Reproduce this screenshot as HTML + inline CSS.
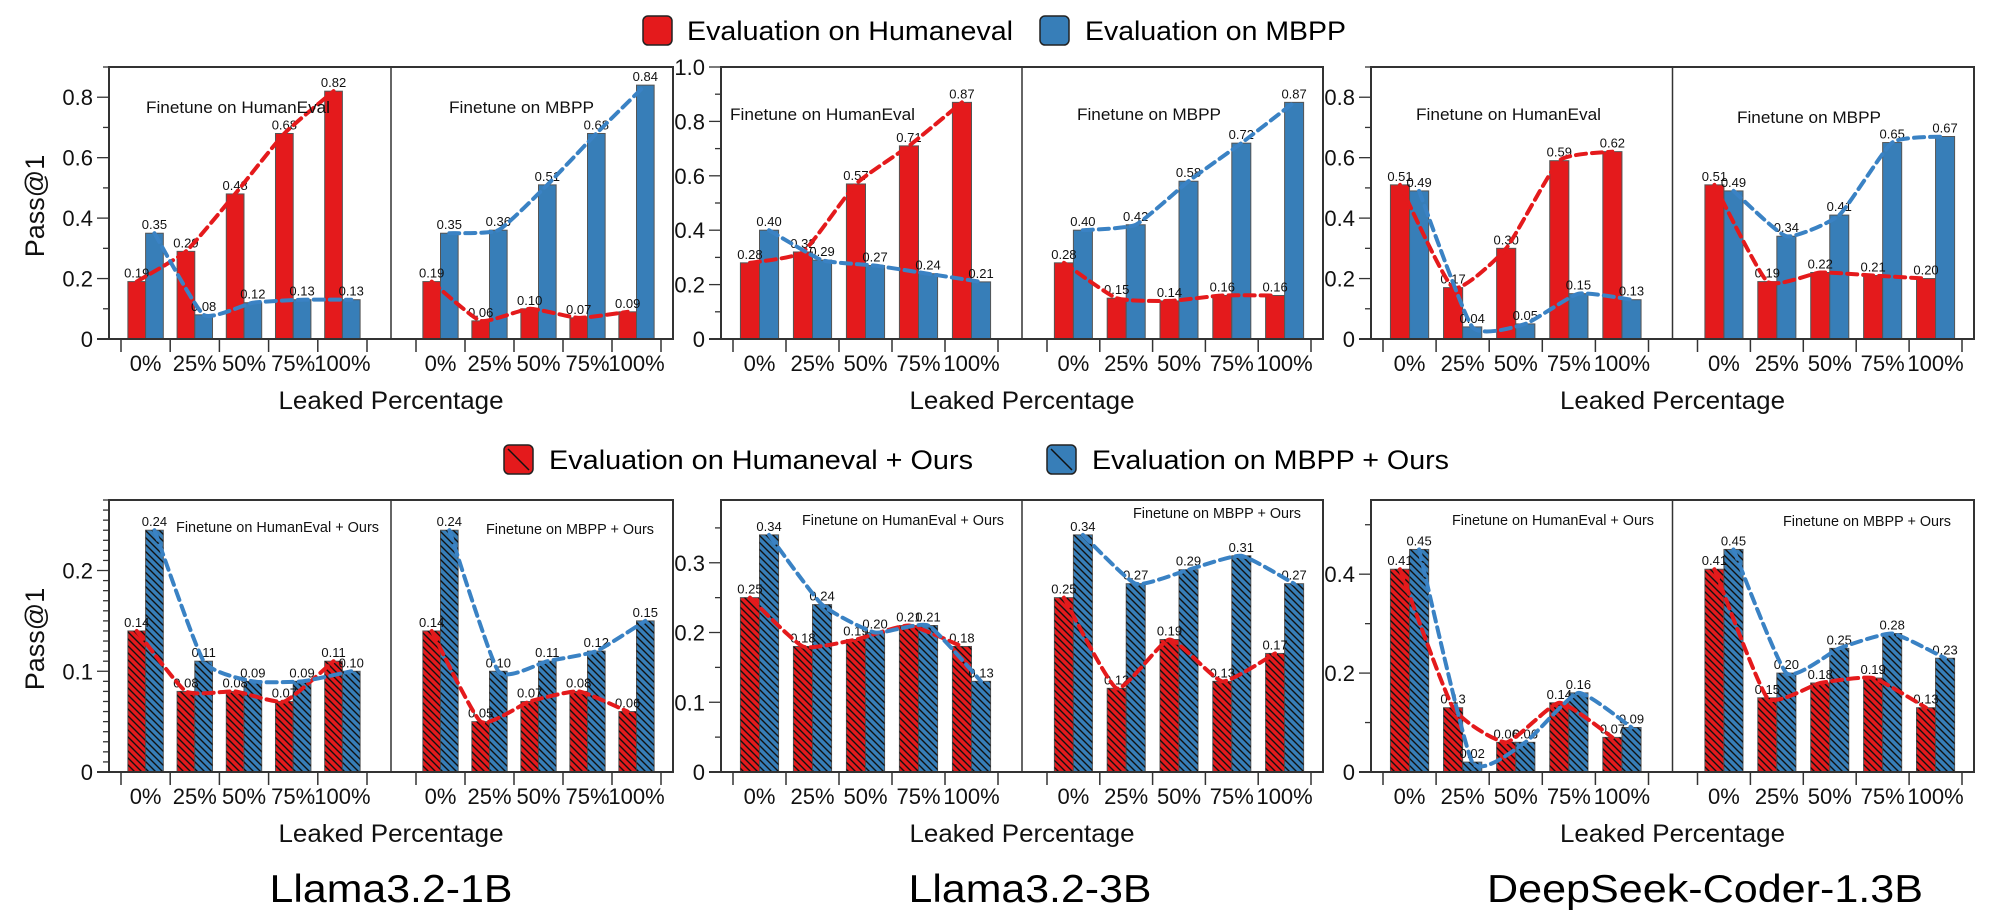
<!DOCTYPE html>
<html><head><meta charset="utf-8"><style>
html,body{margin:0;padding:0;background:#fff;}
svg{display:block;font-family:"Liberation Sans",Arial,sans-serif;}
</style></head><body>
<svg id="fig" width="2000" height="921" viewBox="0 0 2000 921" xmlns="http://www.w3.org/2000/svg">
<defs>
<pattern id="hatch" patternUnits="userSpaceOnUse" width="7" height="7">
<path d="M-2,-2 L9,9 M-2,5 L2,9 M5,-2 L9,2" stroke="#111" stroke-width="1.4"/>
</pattern>
</defs>
<g>
<rect x="643" y="16" width="29" height="29" rx="5" fill="#e41a1c" stroke="#222" stroke-width="1.5"/>
<text x="687" y="40" font-size="27" textLength="326" lengthAdjust="spacingAndGlyphs">Evaluation on Humaneval</text>
<rect x="1040" y="16" width="29" height="29" rx="5" fill="#377eb8" stroke="#222" stroke-width="1.5"/>
<text x="1085" y="40" font-size="27" textLength="261" lengthAdjust="spacingAndGlyphs">Evaluation on MBPP</text>
</g>
<g>
<rect x="504" y="445" width="29" height="29" rx="5" fill="#e41a1c" stroke="#222" stroke-width="1.5"/>
<line x1="508" y1="449" x2="529" y2="470" stroke="#111" stroke-width="1.5"/>
<text x="549" y="469" font-size="27" textLength="424" lengthAdjust="spacingAndGlyphs">Evaluation on Humaneval + Ours</text>
<rect x="1047" y="445" width="29" height="29" rx="5" fill="#377eb8" stroke="#222" stroke-width="1.5"/>
<line x1="1051" y1="449" x2="1072" y2="470" stroke="#111" stroke-width="1.5"/>
<text x="1092" y="469" font-size="27" textLength="357" lengthAdjust="spacingAndGlyphs">Evaluation on MBPP + Ours</text>
</g>
<text x="391" y="902" font-size="39" text-anchor="middle" textLength="243" lengthAdjust="spacingAndGlyphs">Llama3.2-1B</text>
<text x="1030" y="902" font-size="39" text-anchor="middle" textLength="243" lengthAdjust="spacingAndGlyphs">Llama3.2-3B</text>
<text x="1705" y="902" font-size="39" text-anchor="middle" textLength="436" lengthAdjust="spacingAndGlyphs">DeepSeek-Coder-1.3B</text>
</svg>
<script>
const categories = ["0%","25%","50%","75%","100%"];
// Top row (no Ours)
const t1HeRed = [0.19,0.29,0.48,0.68,0.82];
const t1HeBlue = [0.35,0.08,0.12,0.13,0.13];
const t1MbRed = [0.19,0.06,0.10,0.07,0.09];
const t1MbBlue = [0.35,0.36,0.51,0.68,0.84];
const t2HeRed = [0.28,0.32,0.57,0.71,0.87];
const t2HeBlue = [0.40,0.29,0.27,0.24,0.21];
const t2MbRed = [0.28,0.15,0.14,0.16,0.16];
const t2MbBlue = [0.40,0.42,0.58,0.72,0.87];
const t3HeRed = [0.51,0.17,0.30,0.59,0.62];
const t3HeBlue = [0.49,0.04,0.05,0.15,0.13];
const t3MbRed = [0.51,0.19,0.22,0.21,0.20];
const t3MbBlue = [0.49,0.34,0.41,0.65,0.67];
// Bottom row (+ Ours)
const b1HeRed = [0.14,0.08,0.08,0.07,0.11];
const b1HeBlue = [0.24,0.11,0.09,0.09,0.10];
const b1MbRed = [0.14,0.05,0.07,0.08,0.06];
const b1MbBlue = [0.24,0.10,0.11,0.12,0.15];
const b2HeRed = [0.25,0.18,0.19,0.21,0.18];
const b2HeBlue = [0.34,0.24,0.20,0.21,0.13];
const b2MbRed = [0.25,0.12,0.19,0.13,0.17];
const b2MbBlue = [0.34,0.27,0.29,0.31,0.27];
const b3HeRed = [0.41,0.13,0.06,0.14,0.07];
const b3HeBlue = [0.45,0.02,0.06,0.16,0.09];
const b3MbRed = [0.41,0.15,0.18,0.19,0.13];
const b3MbBlue = [0.45,0.20,0.25,0.28,0.23];
// Axis tick labels
const ticksTop1 = ["0","0.2","0.4","0.6","0.8"];
const ticksTop2 = ["0","0.2","0.4","0.6","0.8","1.0"];
const ticksTop3 = ["0","0.2","0.4","0.6","0.8"];
const ticksBot1 = ["0","0.1","0.2"];
const ticksBot2 = ["0","0.1","0.2","0.3"];
const ticksBot3 = ["0","0.2","0.4"];
const yMaxes = [0.9,1.0,0.9,0.27,0.39,0.55];
const majorSteps = [0.2,0.2,0.2,0.1,0.1,0.2];
const minorSteps = [0.1,0.1,0.1,0.01,0.05,0.1];

const NS = "http://www.w3.org/2000/svg";
const svg = document.getElementById("fig");
const RED = "#e41a1c", BLUE = "#377eb8";
function mk(tag, attrs, parent){
  const e = document.createElementNS(NS, tag);
  for (const k in attrs) e.setAttribute(k, attrs[k]);
  (parent||svg).appendChild(e);
  return e;
}
function smooth(pts){
  let d = "M" + pts[0][0] + "," + pts[0][1];
  for (let i=0;i<pts.length-1;i++){
    const p0 = pts[Math.max(0,i-1)], p1 = pts[i], p2 = pts[i+1], p3 = pts[Math.min(pts.length-1,i+2)];
    const t = 0.08;
    const c1x = p1[0] + (p2[0]-p0[0])*t, c1y = p1[1] + (p2[1]-p0[1])*t;
    const c2x = p2[0] - (p3[0]-p1[0])*t, c2y = p2[1] - (p3[1]-p1[1])*t;
    d += " C" + c1x + "," + c1y + " " + c2x + "," + c2y + " " + p2[0] + "," + p2[1];
  }
  return d;
}

const colsX = [[109,673],[721,1323],[1371,1974]];
const rowsY = [[67,339],[500,772]];
const panels = [
  {row:0,col:0,ticks:ticksTop1,he:[t1HeRed,t1HeBlue],mb:[t1MbRed,t1MbBlue],hatch:false,titles:["Finetune on HumanEval","Finetune on MBPP"],tpos:[[146,113,184],[449,113,145]]},
  {row:0,col:1,ticks:ticksTop2,he:[t2HeRed,t2HeBlue],mb:[t2MbRed,t2MbBlue],hatch:false,titles:["Finetune on HumanEval","Finetune on MBPP"],tpos:[[730,120,185],[1077,120,144]]},
  {row:0,col:2,ticks:ticksTop3,he:[t3HeRed,t3HeBlue],mb:[t3MbRed,t3MbBlue],hatch:false,titles:["Finetune on HumanEval","Finetune on MBPP"],tpos:[[1416,120,185],[1737,123,144]]},
  {row:1,col:0,ticks:ticksBot1,he:[b1HeRed,b1HeBlue],mb:[b1MbRed,b1MbBlue],hatch:true,titles:["Finetune on HumanEval + Ours","Finetune on MBPP + Ours"],tpos:[[176,532,203],[486,534,168]]},
  {row:1,col:1,ticks:ticksBot2,he:[b2HeRed,b2HeBlue],mb:[b2MbRed,b2MbBlue],hatch:true,titles:["Finetune on HumanEval + Ours","Finetune on MBPP + Ours"],tpos:[[802,525,202],[1133,518,168]]},
  {row:1,col:2,ticks:ticksBot3,he:[b3HeRed,b3HeBlue],mb:[b3MbRed,b3MbBlue],hatch:true,titles:["Finetune on HumanEval + Ours","Finetune on MBPP + Ours"],tpos:[[1452,525,202],[1783,526,168]]}
];

panels.forEach((p, pi) => {
  const [L,R] = colsX[p.col];
  const [T,B] = rowsY[p.row];
  const D = (L+R)/2;
  const ymax = yMaxes[pi];
  const y = v => B - (v/ymax)*(B-T);
  const g = mk("g", {});
  
  

  const nMinor = Math.floor(ymax/minorSteps[pi] + 1e-6);
  for (let i=0;i<=nMinor;i++){
    const v = i*minorSteps[pi];
    const isMajor = Math.abs(v/majorSteps[pi] - Math.round(v/majorSteps[pi])) < 1e-6;
    mk("line",{x1:L-(isMajor?12:6),x2:L,y1:y(v),y2:y(v),stroke:"#333","stroke-width":1.3},g);
  }
  p.ticks.forEach((lbl, i) => {
    const v = i*majorSteps[pi];
    const t = mk("text",{x:L-16,y:y(v)+8,"font-size":22,"text-anchor":"end",fill:"#111"},g);
    t.textContent = lbl;
    
    
  });

  const halves = [[L+12, D-24, p.he, 0],[D+25, R-12, p.mb, 1]];
  halves.forEach(([a,b,series,hi]) => {
    const s = (b-a)/5;
    const bw = s*0.36;
    for (let i=0;i<=5;i++) mk("line",{x1:a+i*s,x2:a+i*s,y1:B+1,y2:B+13,stroke:"#333","stroke-width":1.5},g);
    const centers = categories.map((c,i)=>a+s*(i+0.5));
    categories.forEach((c,i)=>{
      const t = mk("text",{x:centers[i],y:B+32,"font-size":22,"text-anchor":"middle",fill:"#111"},g);
      t.textContent = c;
      
      
    });
    const linePts = [[],[]];
    series.forEach((vals, si) => {
      vals.forEach((v,i)=>{
        const x0 = si===0 ? centers[i]-bw : centers[i];
        const r = mk("rect",{x:x0,y:y(v),width:bw,height:B-y(v),fill:si===0?RED:BLUE,stroke:"#555","stroke-width":1},g);
        
        
        if (p.hatch) mk("rect",{x:x0,y:y(v),width:bw,height:B-y(v),fill:"url(#hatch)"},g);
        linePts[si].push([x0+bw/2, y(v)]);
      });
    });
    series.forEach((vals, si) => {
      vals.forEach((v,i)=>{
        const t = mk("text",{x:linePts[si][i][0],y:y(v)-4,"font-size":13,"text-anchor":"middle",fill:"#111"},g);
        t.textContent = v.toFixed(2);
        
        
      });
    });
    linePts.forEach((pts, si) => {
      const l = mk("path",{d:smooth(pts),fill:"none",stroke:si===0?RED:"#3a82c4","stroke-width":4,"stroke-dasharray":"10 6","stroke-linecap":"round"},g);
      
      
    });
    const tp = p.tpos[hi];
    const tt = mk("text",{x:tp[0],y:tp[1],"font-size":p.hatch?15:17,textLength:tp[2],lengthAdjust:"spacingAndGlyphs",fill:"#111"},g);
    tt.textContent = p.titles[hi];
    
    
  });
  mk("rect",{x:L,y:T,width:R-L,height:B-T,fill:"none",stroke:"#333","stroke-width":2},g);
  mk("line",{x1:L-12,x2:L,y1:B,y2:B,stroke:"#333","stroke-width":2},g);
  mk("line",{x1:D,x2:D,y1:T,y2:B,stroke:"#333","stroke-width":1.5},g);
  const xl = mk("text",{x:D,y:B+70,"font-size":25,"text-anchor":"middle",textLength:225,lengthAdjust:"spacingAndGlyphs",fill:"#111"},g);
  xl.textContent = "Leaked Percentage";
  
  
  if (p.col===0){
    const cy = (T+B)/2 + 3;
    const yl = mk("text",{x:0,y:0,"font-size":27,"text-anchor":"middle",transform:"translate(44,"+cy+") rotate(-90)",fill:"#111"},g);
    yl.textContent = "Pass@1";
    
    
  }
});
</script>
</body></html>
